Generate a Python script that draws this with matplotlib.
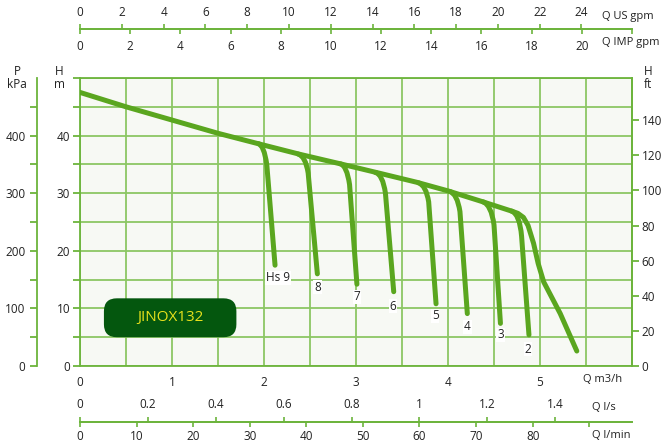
"""Pump curve chart for JINOX132 with multi-unit scales."""

import matplotlib.pyplot as plt
from matplotlib.patches import FancyBboxPatch, PathPatch
from matplotlib.path import Path

W_PX, H_PX, DPI = 663, 443, 100

# plot frame in pixels (left, top, right, bottom)
FRAME = (80, 78, 632, 366)

LINE_GREEN = "#5aa61f"
GRID_GREEN = "#8cc763"
AXIS_GREEN = "#6cb43c"
TEXT = "#222222"

# main curve, Q in m3/h, H in m
main_q = [0, 0.5, 1.0, 1.5, 1.96, 2.39, 2.83, 3.26, 3.66, 4.0, 4.38, 4.69, 4.76, 4.82, 4.87, 4.93, 4.98, 5.04, 5.22, 5.40]
main_h = [47.5, 45.0, 42.7, 40.4, 38.5, 36.75, 35.1, 33.45, 31.9, 30.4, 28.5, 26.9, 26.5, 25.8, 24.4, 21.3, 17.8, 14.6, 9.1, 2.6]

# curves for suction lift Hs: start on main curve, bend control, bend end, end
branch_labels = ["Hs 9", "8", "7", "6", "5", "4", "3", "2"]
branch_q = [
    [1.94, 2.00, 2.03, 2.12],
    [2.37, 2.45, 2.48, 2.58],
    [2.83, 2.90, 2.93, 3.01],
    [3.21, 3.29, 3.32, 3.41],
    [3.68, 3.76, 3.79, 3.87],
    [4.02, 4.10, 4.13, 4.21],
    [4.38, 4.47, 4.50, 4.57],
    [4.69, 4.78, 4.80, 4.88],
]
branch_h = [
    [38.6, 38.3, 35.0, 17.5],
    [36.8, 36.5, 33.5, 16.0],
    [35.1, 34.8, 31.5, 14.2],
    [33.6, 33.3, 30.0, 12.9],
    [31.8, 31.4, 28.5, 10.8],
    [30.3, 29.9, 26.8, 9.1],
    [28.5, 28.0, 24.5, 7.4],
    [26.9, 26.4, 22.5, 5.4],
]
label_q = [2.15, 2.58, 3.01, 3.40, 3.86, 4.21, 4.57, 4.87]
label_h = [15.3, 13.7, 12.0, 10.4, 8.7, 6.8, 5.4, 2.95]

q_labels = [0, 1, 2, 3, 4, 5]
h_labels = [0, 10, 20, 30, 40]
kpa_labels = [0, 100, 200, 300, 400]
ft_ticks = [0, 20, 40, 60, 80, 100, 120, 140]
us_gpm_ticks = [0, 2, 4, 6, 8, 10, 12, 14, 16, 18, 20, 22, 24]
imp_gpm_ticks = [0, 2, 4, 6, 8, 10, 12, 14, 16, 18, 20, 22]
imp_gpm_labels = ["0", "2", "4", "6", "8", "10", "12", "14", "16", "18", "20", ""]
ls_ticks = [0, 0.2, 0.4, 0.6, 0.8, 1.0, 1.2, 1.4]
ls_labels = ["0", "0.2", "0.4", "0.6", "0.8", "1", "1.2", "1.4"]
lmin_ticks = [0, 10, 20, 30, 40, 50, 60, 70, 80, 90]
lmin_labels = ["0", "10", "20", "30", "40", "50", "60", "70", "80", ""]

Q_MAX, H_MAX = 6.0, 50.0
US_GPM = 4.40287
IMP_GPM = 3.66615
L_MIN = 16.26  # as drawn on the original scale
L_S = L_MIN / 60
FT = 3.28084
KPA = 10.0

plt.rcParams["font.family"] = ["Open Sans", "DejaVu Sans"]
plt.rcParams["font.size"] = 8.5
plt.rcParams["text.color"] = TEXT
plt.rcParams["xtick.color"] = TEXT
plt.rcParams["ytick.color"] = TEXT


def fx(px):
    return px / W_PX


def fy(py):
    return 1 - py / H_PX


def style_spines(a, keep):
    for name, sp in a.spines.items():
        sp.set_visible(name in keep)
        sp.set_color(AXIS_GREEN)
        sp.set_linewidth(1.3)


def add_scale(fig, y_px, factor, ticks, labels, side, pad=4):
    left, top, right, bottom = FRAME
    sa = fig.add_axes([fx(left), fy(y_px), fx(right - left), 1e-6])
    sa.set_xlim(0, Q_MAX * factor)
    sa.patch.set_visible(False)
    style_spines(sa, [side])
    sa.set_yticks([])
    sa.xaxis.set_ticks_position(side)
    sa.set_xticks(ticks, labels=labels)
    sa.tick_params(axis="x", direction="out", length=3.5, width=1.2, color=AXIS_GREEN, pad=pad)
    return sa


left, top, right, bottom = FRAME
fig = plt.figure(figsize=(W_PX / DPI, H_PX / DPI), dpi=DPI)
ax = fig.add_axes([fx(left), fy(bottom), fx(right - left), fy(top) - fy(bottom)])
ax.set_facecolor("#f7f9f4")
ax.set_xlim(0, Q_MAX)
ax.set_ylim(0, H_MAX)
style_spines(ax, ["left", "bottom", "top", "right"])

x_grid = [i * 0.5 for i in range(13)]
ax.set_xticks(x_grid, labels=[str(int(v)) if v in q_labels else "" for v in x_grid])
y_grid = [i * 5 for i in range(11)]
ax.set_yticks(y_grid, labels=[str(v) if v in h_labels else "" for v in y_grid])
ax.grid(True, color=GRID_GREEN, lw=1.3)
ax.set_axisbelow(True)
ax.tick_params(axis="x", length=0, pad=7)
ax.tick_params(axis="y", length=5, width=1.3, color=AXIS_GREEN, pad=2)

# right axis in feet
ax_ft = ax.twinx()
ax_ft.set_ylim(0, H_MAX * FT)
ax_ft.set_yticks(ft_ticks)
style_spines(ax_ft, ["right"])
ax_ft.tick_params(axis="y", length=5, width=1.3, color=AXIS_GREEN, pad=2)

# outer left axis in kPa
ax_p = fig.add_axes([fx(36.7), fy(bottom), 1e-6, fy(top) - fy(bottom)])
ax_p.set_ylim(0, H_MAX * KPA)
p_ticks = [i * 50 for i in range(10)]
ax_p.set_yticks(p_ticks, labels=[str(v) if v in kpa_labels else "" for v in p_ticks])
ax_p.set_xticks([])
ax_p.patch.set_visible(False)
style_spines(ax_p, ["left"])
ax_p.tick_params(axis="y", length=5, width=1.3, color=AXIS_GREEN, pad=3)

# top and bottom flow scales
add_scale(fig, 29.3, US_GPM, us_gpm_ticks, [str(v) for v in us_gpm_ticks], "top")
add_scale(fig, 29.3, IMP_GPM, imp_gpm_ticks, imp_gpm_labels, "bottom")
add_scale(fig, 421.7, L_S, ls_ticks, ls_labels, "top")
add_scale(fig, 421.7, L_MIN, lmin_ticks, lmin_labels, "bottom", pad=2.5)

# suction-lift curves: quadratic bend off the main curve, then straight down
codes = [Path.MOVETO, Path.CURVE3, Path.CURVE3, Path.LINETO]
for q, h in zip(branch_q, branch_h):
    path = Path(list(zip(q, h)), codes)
    ax.add_patch(PathPatch(path, fill=False, ec=LINE_GREEN, lw=3.6, capstyle="round",
                           joinstyle="round", zorder=3))
ax.plot(main_q, main_h, color=LINE_GREEN, lw=3.6, solid_capstyle="round", solid_joinstyle="round", zorder=3)

for text, q, h in zip(branch_labels, label_q, label_h):
    ax.text(q, h, text, ha="center", va="center", fontsize=8.5, zorder=4,
            bbox=dict(fc="white", ec="none", pad=0.6))

# model badge
badge = FancyBboxPatch((0.26, 5.0), 1.44, 6.75, boxstyle="round,pad=0,rounding_size=0.14",
                       mutation_aspect=((right - left) / Q_MAX) / ((bottom - top) / H_MAX),
                       fc="#04570e", ec="none", zorder=5)
ax.add_patch(badge)
ax.text(0.98, 8.4, "JINOX132", color="#e8e21c", fontsize=11, ha="center", va="center", zorder=6)

# unit labels
fig.text(fx(602), fy(16), "Q US gpm", va="center", ha="left", fontsize=8)
fig.text(fx(602), fy(43), "Q IMP gpm", va="center", ha="left", fontsize=8)
fig.text(fx(583), fy(379), "Q m3/h", va="center", ha="left", fontsize=8)
fig.text(fx(592), fy(408), "Q l/s", va="center", ha="left", fontsize=8)
fig.text(fx(592), fy(435), "Q l/min", va="center", ha="left", fontsize=8)
fig.text(fx(17), fy(78), "P\nkPa", va="center", ha="center", linespacing=1.0)
fig.text(fx(59.5), fy(78), "H\nm", va="center", ha="center", linespacing=1.0)
fig.text(fx(648), fy(78), "H\nft", va="center", ha="center", linespacing=1.0)

fig.savefig("out.png", dpi=DPI)
